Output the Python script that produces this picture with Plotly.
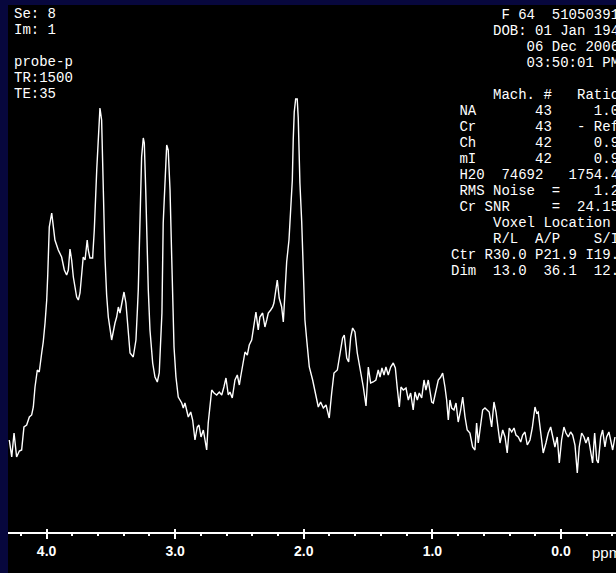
import plotly.graph_objects as go

# ---- spectrum (chemical shift in ppm, intensity in arbitrary units) ----
PPM = [4.290, 4.271, 4.253, 4.233, 4.212, 4.194, 4.176, 4.155, 4.134, 4.116,
       4.103, 4.090, 4.072, 4.057, 4.038, 4.026, 4.012, 3.999, 3.991, 3.979,
       3.960, 3.948, 3.935, 3.909, 3.883, 3.862, 3.844, 3.831, 3.818, 3.805,
       3.792, 3.766, 3.753, 3.740, 3.727, 3.715, 3.701, 3.684, 3.676, 3.663,
       3.642, 3.629, 3.610, 3.598, 3.585, 3.572, 3.559, 3.546, 3.533, 3.520,
       3.494, 3.481, 3.468, 3.455, 3.442, 3.429, 3.416, 3.398, 3.383, 3.369,
       3.351, 3.326, 3.305, 3.295, 3.287, 3.274, 3.261, 3.248, 3.240, 3.229,
       3.217, 3.209, 3.196, 3.175, 3.157, 3.139, 3.124, 3.113, 3.103, 3.093,
       3.079, 3.066, 3.054, 3.040, 3.027, 3.019, 3.009, 2.994, 2.976, 2.949,
       2.937, 2.924, 2.911, 2.898, 2.879, 2.864, 2.846, 2.828, 2.815, 2.799,
       2.781, 2.768, 2.755, 2.743, 2.729, 2.716, 2.698, 2.677, 2.657, 2.638,
       2.621, 2.605, 2.587, 2.574, 2.556, 2.535, 2.517, 2.501, 2.491, 2.475,
       2.457, 2.439, 2.424, 2.405, 2.387, 2.372, 2.354, 2.341, 2.320, 2.302,
       2.288, 2.276, 2.257, 2.242, 2.232, 2.216, 2.206, 2.191, 2.172, 2.159,
       2.146, 2.133, 2.115, 2.102, 2.089, 2.082, 2.074, 2.063, 2.051, 2.043,
       2.037, 2.030, 2.016, 2.004, 1.996, 1.991, 1.977, 1.957, 1.931, 1.905,
       1.887, 1.869, 1.848, 1.827, 1.802, 1.783, 1.765, 1.739, 1.718, 1.698,
       1.685, 1.666, 1.651, 1.635, 1.620, 1.602, 1.584, 1.563, 1.537, 1.516,
       1.498, 1.480, 1.460, 1.439, 1.421, 1.407, 1.392, 1.376, 1.361, 1.343,
       1.324, 1.304, 1.288, 1.273, 1.257, 1.244, 1.226, 1.205, 1.187, 1.169,
       1.149, 1.135, 1.117, 1.102, 1.083, 1.065, 1.050, 1.032, 1.019, 1.005,
       0.993, 0.972, 0.954, 0.935, 0.920, 0.902, 0.889, 0.876, 0.863, 0.850,
       0.832, 0.816, 0.799, 0.780, 0.764, 0.746, 0.729, 0.708, 0.687, 0.669,
       0.656, 0.643, 0.624, 0.609, 0.591, 0.573, 0.558, 0.539, 0.521, 0.505,
       0.488, 0.474, 0.453, 0.435, 0.418, 0.402, 0.383, 0.365, 0.350, 0.332,
       0.313, 0.298, 0.280, 0.262, 0.241, 0.223, 0.202, 0.189, 0.177, 0.163,
       0.150, 0.138, 0.117, 0.099, 0.080, 0.065, 0.047, 0.029, 0.013, -0.005,
       -0.023, -0.039, -0.057, -0.075, -0.091, -0.109, -0.127, -0.142, -0.161, -0.179,
       -0.194, -0.212, -0.231, -0.246, -0.262, -0.278, -0.290, -0.309, -0.324, -0.342,
       -0.355, -0.373, -0.386, -0.402, -0.420]

INTENSITY = [93, 76, 100, 76, 82, 83, 106, 108, 116, 118,
             126, 146, 163, 161, 180, 191, 210, 233, 258, 306,
             320, 306, 293, 283, 276, 263, 258, 263, 284, 273,
             256, 236, 233, 240, 263, 276, 273, 293, 283, 275,
             275, 303, 363, 400, 425, 413, 343, 276, 238, 216,
             193, 203, 210, 216, 226, 220, 230, 241, 230, 210,
             180, 176, 193, 220, 243, 310, 376, 395, 390, 343,
             276, 243, 203, 170, 156, 151, 160, 186, 220, 310,
             360, 388, 383, 343, 276, 233, 186, 156, 136, 130,
             125, 130, 123, 116, 121, 113, 93, 106, 108, 96,
             103, 93, 83, 110, 130, 143, 140, 138, 141, 138,
             146, 155, 138, 141, 135, 153, 158, 148, 156, 170,
             181, 178, 188, 193, 210, 221, 203, 216, 220, 206,
             213, 220, 223, 226, 230, 243, 253, 235, 226, 211,
             246, 271, 293, 320, 353, 393, 421, 434, 434, 415,
             380, 350, 311, 270, 248, 213, 193, 166, 153, 136,
             126, 131, 125, 128, 115, 140, 160, 163, 181, 195,
             198, 175, 171, 196, 205, 201, 180, 166, 146, 127,
             166, 150, 151, 153, 163, 156, 165, 158, 166, 158,
             166, 170, 165, 145, 126, 146, 143, 145, 133, 140,
             123, 141, 133, 140, 135, 153, 143, 153, 143, 131,
             130, 141, 153, 156, 160, 146, 133, 113, 133, 125,
             123, 130, 111, 123, 136, 116, 103, 100, 86, 83,
             110, 90, 106, 123, 125, 123, 121, 106, 131, 121,
             106, 90, 103, 96, 80, 105, 101, 105, 98, 96,
             91, 98, 101, 88, 93, 105, 126, 120, 121, 106,
             90, 80, 90, 100, 106, 96, 86, 96, 70, 93,
             106, 100, 96, 101, 98, 88, 60, 86, 100, 96,
             90, 96, 80, 70, 100, 73, 70, 96, 103, 86,
             96, 101, 93, 83, 96]

TICK_VALS = [4.0, 3.0, 2.0, 1.0, 0.0]
TICK_LABELS = ["4.0", "3.0", "2.0", "1.0", "0.0"]
UNIT_LABEL = "ppm"

HEADER_LEFT = ["Se: 8", "Im: 1", "", "probe-p", "TR:1500", "TE:35"]
HEADER_RIGHT = [
    "      F 64  51050391",
    "     DOB: 01 Jan 1940",
    "         06 Dec 2006",
    "         03:50:01 PM",
    "",
    "     Mach. #   Ratio",
    " NA       43     1.00",
    " Cr       43   - Ref",
    " Ch       42     0.95",
    " mI       42     0.93",
    " H20  74692   1754.4",
    " RMS Noise  =    1.25",
    " Cr SNR     =  24.15",
    "     Voxel Location",
    "     R/L  A/P    S/I",
    "Ctr R30.0 P21.9 I19.2",
    "Dim  13.0  36.1  12.0",
]

# ---- layout constants ----
W, H = 616, 573
ML, MT = 8, 5
X_RANGE = [4.300, -0.428]
Y_RANGE = [-40, 528]
AXIS_POS = (0 - Y_RANGE[0]) / (Y_RANGE[1] - Y_RANGE[0])
NAVY = "#07073d"
MONO = "Liberation Mono"


def px_x(x):
    return (x - ML) / (W - ML)


def px_y(y):
    return 1 - (y - MT) / (H - MT)


fig = go.Figure()
fig.add_trace(go.Scatter(x=PPM, y=INTENSITY, mode="lines",
                         line=dict(color="white", width=1.4),
                         hoverinfo="skip"))
# helper trace so that the second (tick-only) axis is drawn
fig.add_trace(go.Scatter(x=[TICK_VALS[0]], y=[0], xaxis="x2", mode="markers",
                         marker=dict(opacity=0), hoverinfo="skip"))

annotations = []
for i, line in enumerate(HEADER_LEFT):
    if not line:
        continue
    annotations.append(dict(
        text=line.replace(" ", "\u00a0"), xref="paper", yref="paper",
        x=px_x(12), y=px_y(14 + 16 * i), xanchor="left", yanchor="middle",
        showarrow=False, font=dict(family=MONO, size=14, color="white")))
for i, line in enumerate(HEADER_RIGHT):
    if not line:
        continue
    annotations.append(dict(
        text=line.replace(" ", "\u00a0"), xref="paper", yref="paper",
        x=px_x(449), y=px_y(15 + 16 * i), xanchor="left", yanchor="middle",
        showarrow=False, font=dict(family=MONO, size=14, color="white")))
annotations.append(dict(
    text=UNIT_LABEL, xref="paper", yref="paper", x=px_x(590), y=px_y(552),
    xanchor="left", yanchor="middle", showarrow=False,
    font=dict(family="Liberation Sans", size=15, color="white")))

fig.update_layout(
    width=W, height=H,
    margin=dict(l=ML, r=0, t=MT, b=0, pad=0),
    paper_bgcolor=NAVY, plot_bgcolor="black",
    showlegend=False,
    annotations=annotations,
    xaxis=dict(range=X_RANGE, anchor="free", position=AXIS_POS,
               showgrid=False, zeroline=False,
               showline=True, linecolor="white", linewidth=2,
               ticks="outside", ticklen=5, tickwidth=2, tickcolor="white",
               tickmode="array", tickvals=TICK_VALS, ticktext=TICK_LABELS,
               tickfont=dict(family="Liberation Sans", size=14, color="white",
                             weight="bold"),
               minor=dict(ticks="outside", ticklen=2, tickwidth=2,
                          tickcolor="white", dtick=0.2, tick0=0,
                          showgrid=False),
               fixedrange=True),
    xaxis2=dict(range=X_RANGE, overlaying="x", anchor="free",
                position=AXIS_POS, showgrid=False, zeroline=False,
                showline=False, ticks="inside", ticklen=4, tickwidth=2,
                tickcolor="white", tickmode="array", tickvals=TICK_VALS,
                showticklabels=False, fixedrange=True),
    yaxis=dict(range=Y_RANGE, visible=False, fixedrange=True),
)

fig.write_html("out.html",
               config={"displayModeBar": False},
               post_script="document.body.style.margin='0px';"
                           "document.body.style.overflow='hidden';")
